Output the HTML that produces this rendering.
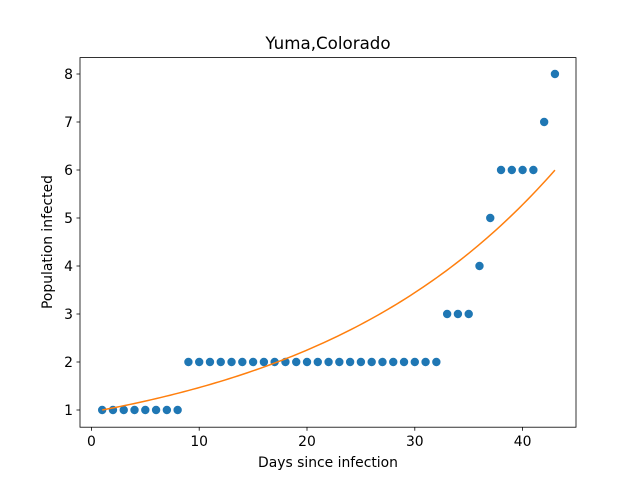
<!DOCTYPE html>
<html><head><meta charset="utf-8"><style>body{margin:0;background:#fff}svg{display:block;font-family:"DejaVu Sans","Liberation Sans",sans-serif}</style></head>
<body>
<svg id="chart" width="640" height="480">
<rect x="0" y="0" width="640" height="480" fill="#fff"/>
<text x="328" y="49" text-anchor="middle" font-size="16.7">Yuma,Colorado</text>
<g id="plot"></g>
<rect x="80" y="57.6" width="496" height="369.6" fill="none" stroke="#000" stroke-width="0.8"/>
<text x="328" y="467" text-anchor="middle" font-size="13.9">Days since infection</text>
<text x="0" y="0" transform="translate(52,242) rotate(-90)" text-anchor="middle" font-size="13.9">Population infected</text>
</svg>
<script>
const days = [1,2,3,4,5,6,7,8,9,10,11,12,13,14,15,16,17,18,19,20,21,22,23,24,25,26,27,28,29,30,31,32,33,34,35,36,37,38,39,40,41,42,43];
const infected = [1,1,1,1,1,1,1,1,2,2,2,2,2,2,2,2,2,2,2,2,2,2,2,2,2,2,2,2,2,2,2,2,3,3,3,4,5,6,6,6,6,7,8];
const fitA = [0.958];
const fitB = [0.04266];
const xTicks = [0,10,20,30,40];
const yTicks = [1,2,3,4,5,6,7,8];
const NS='http://www.w3.org/2000/svg';
const g=document.getElementById('plot');
const X=v=>91.4+v*10.78;
const Y=v=>410-(v-1)*48;
function mk(t,a){const e=document.createElementNS(NS,t);for(const k in a)e.setAttribute(k,a[k]);g.appendChild(e);return e;}
xTicks.forEach(t=>{
  const l=mk('line',{x1:X(t),x2:X(t),y1:427.2,y2:430.7,stroke:'#000','stroke-width':0.8});
  
  
  const tx=mk('text',{x:X(t),y:446,'text-anchor':'middle','font-size':13.9});
  tx.textContent=t;
  
  
});
yTicks.forEach(t=>{
  const l=mk('line',{x1:76.5,x2:80,y1:Y(t),y2:Y(t),stroke:'#000','stroke-width':0.8});
  
  
  const tx=mk('text',{x:73,y:Y(t)+5,'text-anchor':'end','font-size':13.9});
  tx.textContent=t;
  
  
});
days.forEach((d,i)=>{
  const c=mk('circle',{cx:X(d),cy:Y(infected[i]),r:4.2,fill:'#1f77b4'});
  
  
});
let pts=[];
for(let k=0;k<=100;k++){const x=days[0]+(days[days.length-1]-days[0])*k/100;pts.push(X(x).toFixed(2)+','+Y(fitA[0]*Math.exp(fitB[0]*x)).toFixed(2));}
const p=mk('polyline',{points:pts.join(' '),fill:'none',stroke:'#ff7f0e','stroke-width':1.5});


</script>
</body></html>
